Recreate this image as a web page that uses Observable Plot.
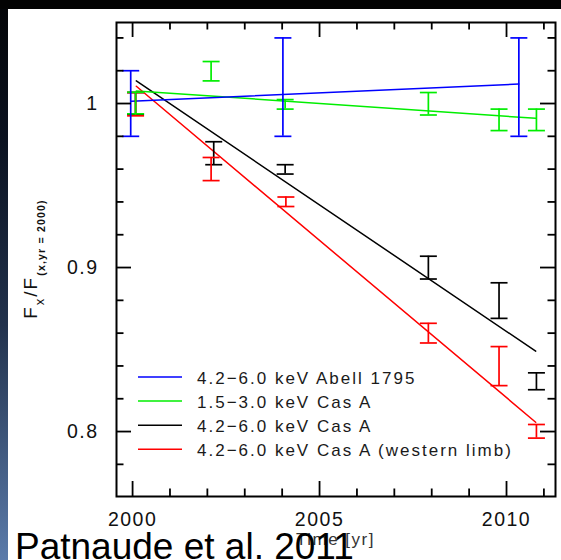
<!DOCTYPE html>
<html><head><meta charset="utf-8">
<script src="https://cdn.jsdelivr.net/npm/d3@7"></script>
<script src="https://cdn.jsdelivr.net/npm/@observablehq/plot@0.6"></script>
<style>
html,body{margin:0;padding:0;width:561px;height:560px;overflow:hidden;}
body{position:relative;background:linear-gradient(to bottom,#040507 0%,#0b1220 25%,#22324c 58%,#5b7baa 100%);}
#topbar{position:absolute;left:0;top:0;width:561px;height:9px;background:#030303;}
#panel{position:absolute;left:8px;top:9px;width:553px;height:551px;background:#fff;}
#chart{position:absolute;left:0;top:0;width:561px;height:560px;}
#chart svg text{font-family:"Liberation Sans",Arial,sans-serif;}
</style></head><body>
<div id="topbar"></div><div id="panel"></div><div id="chart"></div>
<script>
// ---- data ----
const seriesNames = ["4.2\u22126.0 keV Abell 1795", "1.5\u22123.0 keV Cas A", "4.2\u22126.0 keV Cas A", "4.2\u22126.0 keV Cas A (western limb)"];
const seriesColors = ["#0000ff", "#00ee00", "#000000", "#ff0000"];

// Abell 1795, 4.2-6.0 keV
const abellX  = [1999.95, 2004.02, 2010.33];
const abellLo = [0.980, 0.980, 0.980];
const abellHi = [1.020, 1.040, 1.040];
const abellFitX = [1999.97, 2010.33];
const abellFitY = [1.0014, 1.0119];

// Cas A, 1.5-3.0 keV
const softX  = [2000.08, 2002.10, 2004.08, 2007.91, 2009.80, 2010.80];
const softLo = [0.9937, 1.0138, 0.9966, 0.9930, 0.9835, 0.9835];
const softHi = [1.0069, 1.0256, 1.0024, 1.0067, 0.9966, 0.9966];
const softFitX = [2000.10, 2010.78];
const softFitY = [1.0077, 0.9910];

// Cas A, 4.2-6.0 keV
const hardX  = [2000.08, 2002.17, 2004.08, 2007.91, 2009.80, 2010.80];
const hardLo = [0.9935, 0.9627, 0.9570, 0.8930, 0.8690, 0.8255];
const hardHi = [1.0067, 0.9767, 0.9627, 0.9069, 0.8907, 0.8358];
const hardFitX = [2000.10, 2010.78];
const hardFitY = [1.0138, 0.8490];

// Cas A western limb, 4.2-6.0 keV
const westX  = [2000.08, 2002.10, 2004.10, 2007.91, 2009.80, 2010.80];
const westLo = [0.9925, 0.9530, 0.9372, 0.8540, 0.8280, 0.7960];
const westHi = [1.0067, 0.9671, 0.9430, 0.8660, 0.8518, 0.8043];
const westFitX = [2000.10, 2010.78];
const westFitY = [1.0105, 0.8057];

// axes
const xDomain = [1999.57, 2011.31];
const yDomain = [0.7604, 1.0494];
const xMajorTicks = [2000, 2005, 2010];
const xMinorTicks = [2001, 2002, 2003, 2004, 2006, 2007, 2008, 2009, 2011];
const yMajorTicks = [0.8, 0.9, 1.0];
const yMinorTicks = [0.78, 0.82, 0.84, 0.86, 0.88, 0.92, 0.94, 0.96, 0.98, 1.02, 1.04];
const xLabel = "Time [yr]";
const creditText = "Patnaude et al. 2011";

// ---- build tables ----
function rows(xs, lo, hi) { return xs.map((x, i) => ({x, lo: lo[i], hi: hi[i]})); }
function fit(xs, ys) { return xs.map((x, i) => ({x, y: ys[i]})); }
const series = [
  {bars: rows(abellX, abellLo, abellHi), fit: fit(abellFitX, abellFitY)},
  {bars: rows(softX, softLo, softHi),   fit: fit(softFitX, softFitY)},
  {bars: rows(hardX, hardLo, hardHi),   fit: fit(hardFitX, hardFitY)},
  {bars: rows(westX, westLo, westHi),   fit: fit(westFitX, westFitY)}
];
const drawOrder = [2, 3, 1, 0];

const W = 561, H = 560, mL = 116, mR = 6, mT = 22, mB = 64;
const frameW = W - mL - mR, frameH = H - mT - mB;
const majorLen = 15, minorLen = 7.5;

const capSymbol = {draw(ctx, size) { const w = Math.sqrt(size / Math.PI); ctx.moveTo(-w, 0); ctx.lineTo(w, 0); }};

const marks = [];
for (const s of drawOrder) {
  const c = seriesColors[s], d = series[s];
  marks.push(Plot.line(d.fit, {x: "x", y: "y", stroke: c, strokeWidth: 1.5}));
}
for (const s of drawOrder) {
  const c = seriesColors[s], d = series[s];
  marks.push(Plot.ruleX(d.bars, {x: "x", y1: "lo", y2: "hi", stroke: c, strokeWidth: 1.7}));
  marks.push(Plot.dot(d.bars, {x: "x", y: "lo", symbol: capSymbol, r: 8.5, stroke: c, fill: "none", strokeWidth: 1.7}));
  marks.push(Plot.dot(d.bars, {x: "x", y: "hi", symbol: capSymbol, r: 8.5, stroke: c, fill: "none", strokeWidth: 1.7}));
}
// inward ticks on all four sides
const tk = {stroke: "#000", strokeWidth: 1.8};
marks.push(Plot.tickX(xMajorTicks, {x: d => d, insetTop: frameH - majorLen, ...tk}));
marks.push(Plot.tickX(xMinorTicks, {x: d => d, insetTop: frameH - minorLen, ...tk}));
marks.push(Plot.tickX(xMajorTicks, {x: d => d, insetBottom: frameH - majorLen, ...tk}));
marks.push(Plot.tickX(xMinorTicks, {x: d => d, insetBottom: frameH - minorLen, ...tk}));
marks.push(Plot.tickY(yMajorTicks, {y: d => d, insetRight: frameW - majorLen, ...tk}));
marks.push(Plot.tickY(yMinorTicks, {y: d => d, insetRight: frameW - minorLen, ...tk}));
marks.push(Plot.tickY(yMajorTicks, {y: d => d, insetLeft: frameW - majorLen, ...tk}));
marks.push(Plot.tickY(yMinorTicks, {y: d => d, insetLeft: frameW - minorLen, ...tk}));
marks.push(Plot.frame({stroke: "#000", strokeWidth: 2}));
marks.push(Plot.axisX(xMajorTicks, {tickSize: 0, tickPadding: 16, fontSize: 19.5, label: null, fill: "#111", tickFormat: d => String(d)}));
marks.push(Plot.axisY(yMajorTicks, {tickSize: 0, tickPadding: 18, fontSize: 19.5, label: null, fill: "#111", tickFormat: d => String(d)}));

const chart = Plot.plot({
  width: W, height: H,
  marginLeft: mL, marginRight: mR, marginTop: mT, marginBottom: mB,
  x: {domain: xDomain},
  y: {domain: yDomain},
  style: {background: "transparent", overflow: "visible"},
  marks
});
document.getElementById("chart").appendChild(chart);

const svg = d3.select(chart);
svg.selectAll("[aria-label$='axis tick label'] text").style("letter-spacing", "1.5px");

// legend
const leg = svg.append("g").attr("class", "legend").attr("text-anchor", "start");
const legY0 = 377, legStep = 24.1;
seriesNames.forEach((name, i) => {
  const y = legY0 + i * legStep;
  leg.append("line").attr("x1", 138).attr("x2", 182).attr("y1", y).attr("y2", y)
    .attr("stroke", seriesColors[i]).attr("stroke-width", 1.5);
  leg.append("text").attr("x", 197).attr("y", y + 7).attr("text-anchor", "start").text(name)
    .attr("font-size", 17).attr("fill", "#1a1a1a").style("letter-spacing", "2px");
});

// y label with subscripts
const yl = svg.append("text").attr("transform", "translate(37,259) rotate(-90)")
  .attr("text-anchor", "middle").attr("fill", "#111").style("letter-spacing", "2px");
yl.append("tspan").attr("font-size", 19).text("F");
yl.append("tspan").attr("font-size", 13).attr("dy", 7).text("x");
yl.append("tspan").attr("font-size", 19).attr("dy", -7).text("/F");
yl.append("tspan").attr("font-size", 10.5).attr("font-weight", "bold").attr("dy", 7.5).style("letter-spacing", "1.2px").text("(x,yr = 2000)");

// x label
svg.append("text").attr("x", mL + frameW / 2).attr("y", 545).attr("text-anchor", "middle")
  .attr("font-size", 17).attr("fill", "#333").style("letter-spacing", "1.5px").text(xLabel);

// credit overlay
svg.append("text").attr("x", 15).attr("y", 559).attr("text-anchor", "start")
  .attr("font-size", 37).attr("fill", "#000").text(creditText);
</script></body></html>
